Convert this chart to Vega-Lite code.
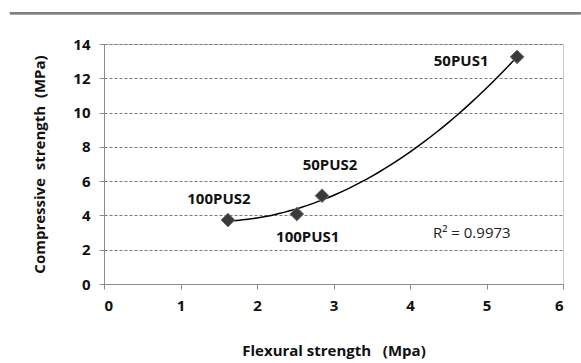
{
  "$schema": "https://vega.github.io/schema/vega-lite/v6.json",
  "width": 459,
  "height": 240,
  "autosize": {"type": "none"},
  "padding": {"left": 104, "top": 44, "right": 18, "bottom": 79},
  "background": "white",
  "config": {
    "font": "Open Sans",
    "view": {"stroke": "#999999", "strokeDash": [1, 1], "strokeWidth": 1},
    "axis": {
      "labelFont": "Open Sans",
      "labelFontWeight": "bold",
      "labelFontSize": 15,
      "labelColor": "#111111",
      "titleFont": "Open Sans",
      "titleFontWeight": "bold",
      "titleFontSize": 15,
      "titleColor": "#111111",
      "domainColor": "#8c8c8c",
      "tickColor": "#8c8c8c",
      "tickSize": 5
    }
  },
  "data": {
    "values": [
      {"flex": 1.62, "comp": 3.73, "label": "100PUS2"},
      {"flex": 2.52, "comp": 4.08, "label": "100PUS1"},
      {"flex": 2.85, "comp": 5.15, "label": "50PUS2"},
      {"flex": 5.40, "comp": 13.25, "label": "50PUS1"}
    ]
  },
  "encoding": {
    "x": {
      "field": "flex", "type": "quantitative",
      "scale": {"domain": [0, 6], "nice": false},
      "axis": {
        "title": "Flexural strength\u00a0\u00a0\u00a0(Mpa)",
        "values": [0, 1, 2, 3, 4, 5, 6],
        "tickCount": 20,
        "format": "d",
        "grid": false,
        "labelPadding": 9,
        "titlePadding": 30
      }
    },
    "y": {
      "field": "comp", "type": "quantitative",
      "scale": {"domain": [0, 14], "nice": false},
      "axis": {
        "title": "Compressive\u00a0\u00a0strength\u00a0\u00a0(MPa)",
        "values": [0, 2, 4, 6, 8, 10, 12, 14],
        "tickCount": 20,
        "labelOverlap": false,
        "format": "d",
        "grid": true,
        "gridColor": "#7a7a7a",
        "gridDash": [3, 2],
        "gridWidth": 1,
        "labelPadding": 9,
        "titlePadding": 25
      }
    }
  },
  "layer": [
    {
      "transform": [
        {"regression": "comp", "on": "flex", "method": "poly", "order": 2, "extent": [1.62, 5.4]}
      ],
      "mark": {"type": "line", "color": "#000000", "strokeWidth": 1.5, "interpolate": "monotone"}
    },
    {
      "mark": {"type": "point", "shape": "diamond", "filled": true, "size": 190, "color": "#3a3a3a", "opacity": 1, "stroke": "#777777", "strokeWidth": 1}
    },
    {
      "transform": [{"filter": "datum.label == '50PUS1'"}],
      "mark": {"type": "text", "font": "Open Sans", "fontWeight": "bold", "fontSize": 15, "dx": -56, "dy": 4, "color": "#111111"},
      "encoding": {"text": {"field": "label"}}
    },
    {
      "transform": [{"filter": "datum.label == '50PUS2'"}],
      "mark": {"type": "text", "font": "Open Sans", "fontWeight": "bold", "fontSize": 15, "dx": 8, "dy": -31, "color": "#111111"},
      "encoding": {"text": {"field": "label"}}
    },
    {
      "transform": [{"filter": "datum.label == '100PUS2'"}],
      "mark": {"type": "text", "font": "Open Sans", "fontWeight": "bold", "fontSize": 15, "dx": -9, "dy": -21, "color": "#111111"},
      "encoding": {"text": {"field": "label"}}
    },
    {
      "transform": [{"filter": "datum.label == '100PUS1'"}],
      "mark": {"type": "text", "font": "Open Sans", "fontWeight": "bold", "fontSize": 15, "dx": 11, "dy": 23, "color": "#111111"},
      "encoding": {"text": {"field": "label"}}
    },
    {
      "transform": [{"filter": "datum.label == '100PUS1'"}],
      "mark": {"type": "text", "font": "Open Sans", "fontSize": 15, "dx": 175, "dy": 19, "color": "#222222"},
      "encoding": {"text": {"value": "R² = 0.9973"}}
    },
    {
      "mark": {"type": "rule", "color": "#808080", "strokeWidth": 2, "clip": false},
      "encoding": {
        "x": {"datum": -1.23, "type": "quantitative"},
        "x2": {"datum": 6.23},
        "y": {"datum": 15.8, "type": "quantitative"}
      }
    }
  ]
}
